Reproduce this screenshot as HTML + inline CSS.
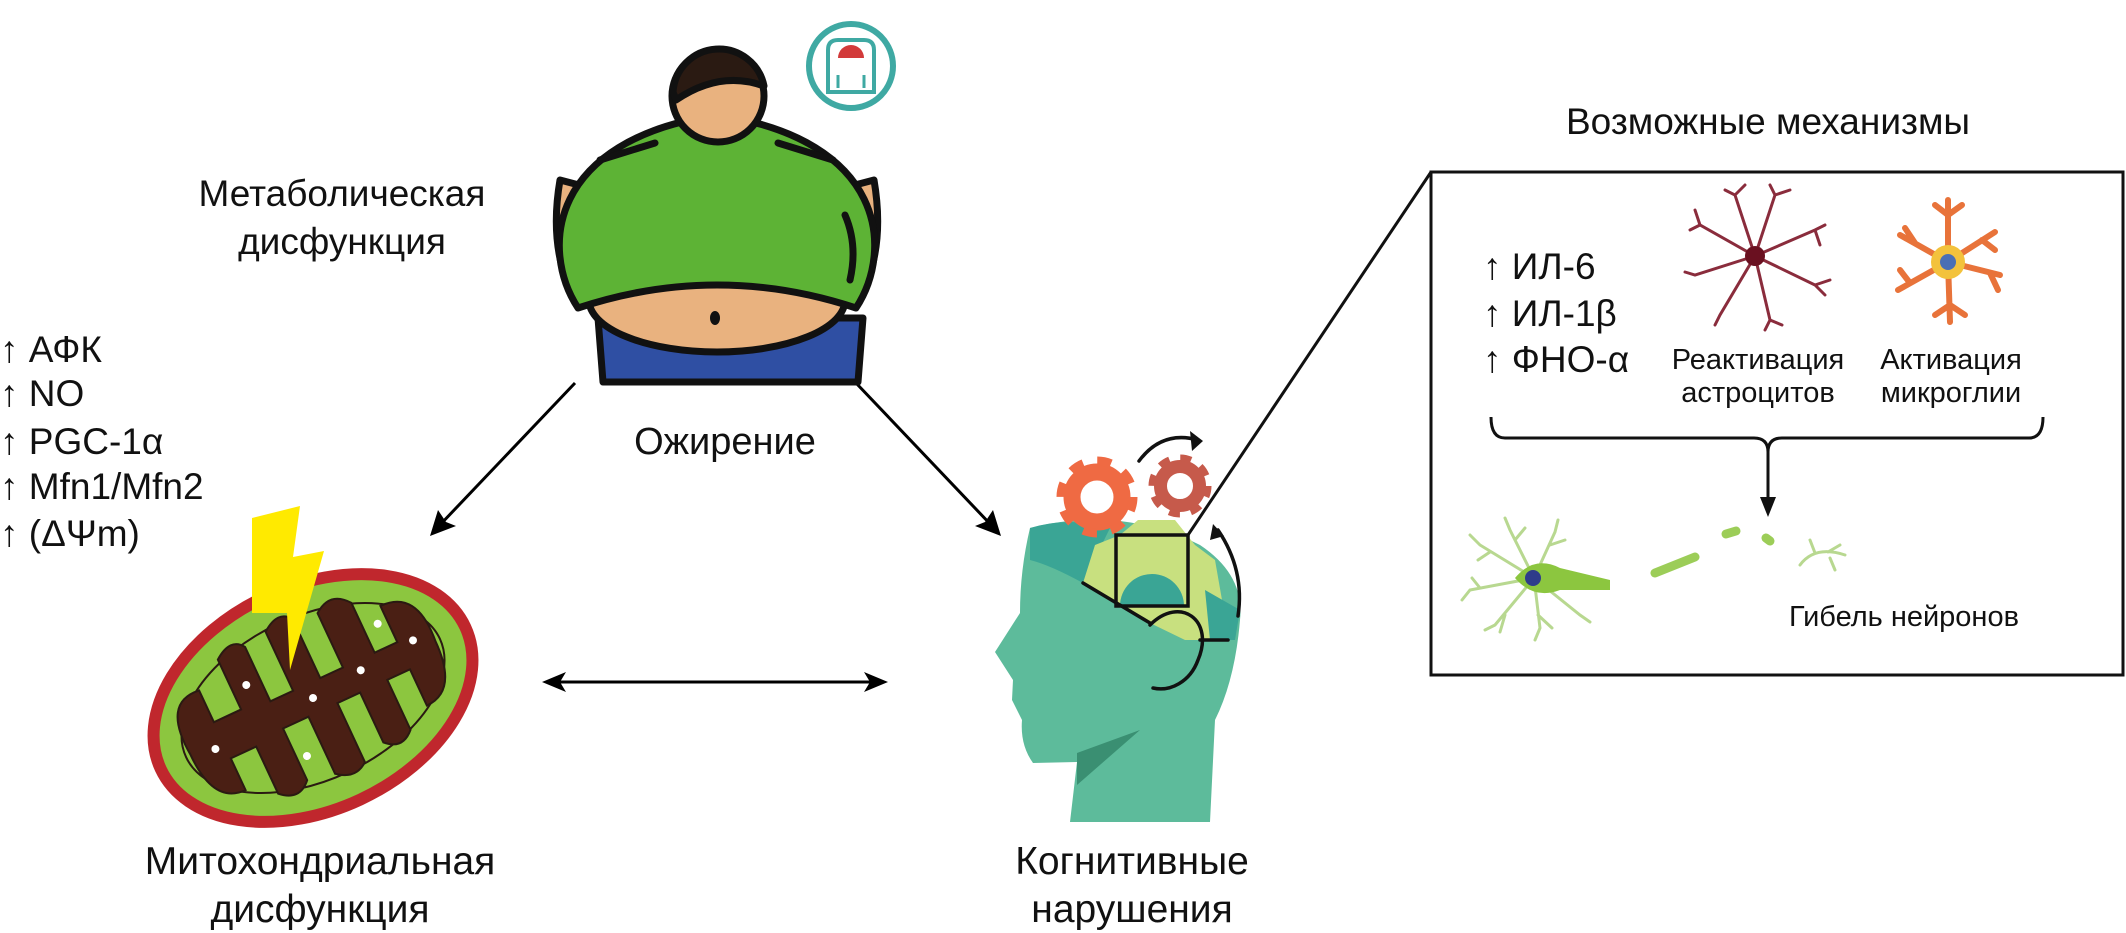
<!DOCTYPE html>
<html><head><meta charset="utf-8"><style>
html,body{margin:0;padding:0;background:#fff;}
svg{display:block;}
text{font-family:"Liberation Sans",sans-serif;fill:#111;}
</style></head><body>
<svg width="2126" height="933" viewBox="0 0 2126 933" xmlns="http://www.w3.org/2000/svg">
<defs>
<marker id="ah" viewBox="0 0 20 20" refX="18" refY="10" markerWidth="9" markerHeight="9" markerUnits="userSpaceOnUse" orient="auto">
</marker>
</defs>

<!-- Texts -->
<text x="342" y="206" font-size="37" text-anchor="middle">Метаболическая</text>
<text x="342" y="254" font-size="37" text-anchor="middle">дисфункция</text>
<g font-size="37">
<text x="0" y="362">↑ АФК</text>
<text x="0" y="406">↑ NO</text>
<text x="0" y="454">↑ PGC-1α</text>
<text x="0" y="499">↑ Mfn1/Mfn2</text>
<text x="0" y="546">↑ (ΔΨm)</text>
</g>
<text x="725" y="454" font-size="38" text-anchor="middle">Ожирение</text>
<text x="320" y="874" font-size="39" text-anchor="middle">Митохондриальная</text>
<text x="320" y="922" font-size="39" text-anchor="middle">дисфункция</text>
<text x="1132" y="874" font-size="39" text-anchor="middle">Когнитивные</text>
<text x="1132" y="922" font-size="39" text-anchor="middle">нарушения</text>
<text x="1768" y="134" font-size="37" text-anchor="middle">Возможные механизмы</text>

<!-- arrows -->
<g stroke="#000" stroke-width="3" fill="none">
<line x1="575" y1="383" x2="438" y2="527"/>
<line x1="856" y1="383" x2="993" y2="527"/>
<line x1="552" y1="682" x2="878" y2="682"/>
</g>
<g fill="#000">
<polygon points="430,536 438,510 446,522 456,526"/>
<polygon points="1001,536 975,526 985,522 993,510"/>
<polygon points="542,682 566,672 560,682 566,692"/>
<polygon points="888,682 864,672 870,682 864,692"/>
</g>

<!-- Scale icon -->
<circle cx="851" cy="66" r="42" fill="#fff" stroke="#3fa9a3" stroke-width="6"/>
<path d="M828 50 Q828 40 838 40 L864 40 Q874 40 874 50 L874 92 L828 92 Z" fill="#fff" stroke="#3fa9a3" stroke-width="4"/>
<path d="M838 58 A13 13 0 0 1 864 58 Z" fill="#d23a3a"/>
<line x1="838" y1="75" x2="838" y2="88" stroke="#3fa9a3" stroke-width="3"/>
<line x1="864" y1="75" x2="864" y2="88" stroke="#3fa9a3" stroke-width="3"/>

<!-- Person -->
<g stroke="#111" stroke-width="7" stroke-linejoin="round">
<path d="M598 318 L863 318 L858 382 L603 382 Z" fill="#2f4fa3"/>
<path d="M560 180 Q548 250 575 300 L598 300 L598 190 Z" fill="#e9b27f"/>
<path d="M874 180 Q886 250 859 300 L836 300 L836 190 Z" fill="#e9b27f"/>
<ellipse cx="717" cy="300" rx="128" ry="52" fill="#e9b27f"/>
<path d="M578 308 C540 250 548 140 717 115 C886 140 894 250 856 308 Q717 262 578 308 Z" fill="#5db335"/>
<circle cx="718" cy="96" r="46" fill="#e9b27f"/>
<path d="M673 92 A46 46 0 0 1 764 86 Q720 70 676 100 Z" fill="#2a1a12"/>
</g>
<ellipse cx="715" cy="318" rx="5" ry="7" fill="#111"/>
<g stroke="#111" stroke-width="7" stroke-linecap="round" fill="none">
<line x1="600" y1="160" x2="655" y2="143"/>
<line x1="778" y1="143" x2="833" y2="160"/>
<path d="M845 215 Q858 245 850 280"/>
</g>

<!-- Mitochondrion -->
<g transform="translate(313,698) rotate(-25)">
<ellipse cx="0" cy="0" rx="168" ry="112" fill="#8cc63f" stroke="#c0272d" stroke-width="12"/>
<ellipse cx="0" cy="0" rx="140" ry="82" fill="none" stroke="#2a1a12" stroke-width="2"/>
<path d="M-135 0 Q-140 -60 -100 -55 L-100 -20 L-70 -20 L-70 -75 Q-50 -90 -40 -75 L-40 -15 L-15 -15 L-15 -80 Q5 -95 15 -80 L15 -15 L40 -15 L40 -75 Q60 -90 75 -70 L75 -15 L100 -15 L100 -55 Q140 -55 135 0 Q135 55 100 55 L100 15 L75 15 L75 70 Q60 85 45 70 L45 15 L20 15 L20 80 Q5 92 -12 78 L-12 15 L-40 15 L-40 72 Q-55 88 -72 72 L-72 20 L-100 20 L-100 55 Q-135 55 -135 0 Z" fill="#4a1f14" stroke="#2a1a12" stroke-width="2"/>
<g fill="#fff"><circle cx="-110" cy="5" r="4"/><circle cx="-55" cy="-40" r="4"/><circle cx="0" cy="0" r="4"/><circle cx="55" cy="-5" r="4"/><circle cx="115" cy="-10" r="4"/><circle cx="-30" cy="50" r="4"/><circle cx="90" cy="-40" r="4"/></g>
</g>
<polygon points="252,518 300,506 293,557 324,551 290,670 287,613 252,613" fill="#ffea00"/>

<!-- Head -->
<path d="M1030 528 Q1120 505 1200 545 Q1245 575 1240 620 Q1235 680 1215 720 L1210 822 L1070 822 L1077 762 L1033 763 Q1020 745 1022 720 L1012 700 L1013 680 L995 652 L1020 613 Q1020 570 1030 528 Z" fill="#5dbb9b"/>
<polygon points="1077,785 1140,730 1077,753" fill="#3a8f72"/>
<path d="M1030 528 Q1070 516 1110 528 L1083 583 Q1050 565 1030 560 Z" fill="#3aa595"/>
<path d="M1083 583 L1095 545 L1120 535 L1138 520 L1175 520 L1195 545 L1215 560 L1222 600 L1215 640 L1185 640 L1150 623 Z" fill="#c8e07f"/>
<path d="M1205 590 L1240 610 L1235 640 L1210 640 Z" fill="#3aa595"/>
<path d="M1120 606 A32 32 0 0 1 1184 606 Z" fill="#3aa595"/>
<g stroke="#111" stroke-width="3.5" fill="none" stroke-linecap="round">
<line x1="1083" y1="583" x2="1150" y2="623"/>
<path d="M1150 625 C1180 595 1215 620 1198 660 C1190 682 1170 692 1153 688"/>
<line x1="1200" y1="640" x2="1228" y2="640"/>
<path d="M1139 461 Q1162 430 1198 440"/>
<path d="M1218 530 Q1245 570 1238 616"/>
</g>
<polygon points="1203,441 1190,431 1192,451" fill="#111"/>
<polygon points="1213,524 1210,540 1224,536" fill="#111"/>
<!-- gears -->
<circle cx="1097" cy="497" r="25" fill="none" stroke="#ef6a43" stroke-width="17"/>
<circle cx="1097" cy="497" r="36" fill="none" stroke="#ef6a43" stroke-width="9" stroke-dasharray="14 14.27"/>
<circle cx="1180" cy="486" r="19.5" fill="none" stroke="#c65a4b" stroke-width="13"/>
<circle cx="1180" cy="486" r="28" fill="none" stroke="#c65a4b" stroke-width="7" stroke-dasharray="11 11"/>
<!-- zoom square -->
<rect x="1116" y="535" width="72" height="71" fill="none" stroke="#111" stroke-width="3.5"/>
<line x1="1188" y1="535" x2="1431" y2="172" stroke="#111" stroke-width="3"/>

<!-- Box -->
<rect x="1431" y="172" width="692" height="503" fill="none" stroke="#111" stroke-width="3"/>
<g font-size="37">
<text x="1483" y="279">↑ ИЛ-6</text>
<text x="1483" y="326">↑ ИЛ-1β</text>
<text x="1483" y="372">↑ ФНО-α</text>
</g>
<g font-size="29" text-anchor="middle">
<text x="1758" y="369">Реактивация</text>
<text x="1758" y="402">астроцитов</text>
<text x="1951" y="369">Активация</text>
<text x="1951" y="402">микроглии</text>
<text x="1904" y="626">Гибель нейронов</text>
</g>
<!-- astrocyte -->
<g stroke="#8a2c3c" stroke-width="3" fill="none" stroke-linecap="round">
<path d="M1755 256 L1700 225 L1690 230 M1700 225 L1695 210"/>
<path d="M1755 256 L1735 195 L1725 190 M1735 195 L1745 185"/>
<path d="M1755 256 L1775 195 L1770 185 M1775 195 L1790 190"/>
<path d="M1755 256 L1815 230 L1825 225 M1815 230 L1820 245"/>
<path d="M1755 256 L1815 285 L1825 295 M1815 285 L1830 280"/>
<path d="M1755 256 L1770 320 L1765 330 M1770 320 L1782 325"/>
<path d="M1755 256 L1720 315 L1715 325"/>
<path d="M1755 256 L1695 275 L1685 272"/>
</g>
<circle cx="1755" cy="256" r="10" fill="#6a1020"/>
<!-- microglia -->
<g stroke="#e8733a" stroke-width="6" fill="none" stroke-linecap="round">
<path d="M1948 262 L1948 200 M1948 215 L1935 205 M1948 215 L1962 205"/>
<path d="M1948 262 L1900 235 M1915 243 L1905 228"/>
<path d="M1948 262 L1995 232 M1982 240 L1995 250"/>
<path d="M1948 262 L2000 275 M1990 273 L1998 290"/>
<path d="M1948 262 L1950 322 M1950 305 L1935 315 M1950 305 L1965 315"/>
<path d="M1948 262 L1898 290 M1910 283 L1900 270"/>
</g>
<circle cx="1948" cy="262" r="17" fill="#f3c23c"/>
<circle cx="1948" cy="262" r="8" fill="#4a6fb5"/>
<!-- brace -->
<path d="M1491 417 Q1491 438 1505 438 L1754 438 Q1768 438 1768 452 Q1768 438 1782 438 L2029 438 Q2043 438 2043 417" fill="none" stroke="#111" stroke-width="3"/>
<line x1="1768" y1="450" x2="1768" y2="505" stroke="#111" stroke-width="3"/>
<polygon points="1768,517 1760,497 1776,497" fill="#111"/>
<!-- neuron -->
<g stroke="#b8d890" stroke-width="3" fill="none" stroke-linecap="round">
<path d="M1534 578 L1480 545 L1470 535 M1490 552 L1478 560"/>
<path d="M1534 578 L1510 530 L1505 518 M1515 540 L1525 528"/>
<path d="M1534 578 L1555 532 L1558 520 M1550 545 L1565 540"/>
<path d="M1534 578 L1470 590 L1462 600 M1480 588 L1472 578"/>
<path d="M1534 578 L1495 625 L1485 630 M1505 615 L1500 632"/>
<path d="M1534 578 L1540 628 L1535 640 M1538 615 L1552 628"/>
<path d="M1534 578 L1580 615 L1590 622"/>
</g>
<path d="M1515 578 Q1534 555 1560 568 L1610 580 L1610 590 L1560 590 Q1534 600 1515 578 Z" fill="#8cc63f"/>
<circle cx="1533" cy="578" r="8" fill="#2e3c8a"/>
<g stroke="#9ccd58" stroke-width="9" stroke-linecap="round">
<line x1="1655" y1="573" x2="1695" y2="557"/>
<line x1="1726" y1="534" x2="1736" y2="531"/>
<line x1="1766" y1="538" x2="1770" y2="541"/>
</g>
<g stroke="#b8d890" stroke-width="3" fill="none" stroke-linecap="round">
<path d="M1800 565 Q1815 545 1845 555 M1815 553 L1810 540 M1828 552 L1840 545 M1830 558 L1835 570"/>
</g>
</svg>
</body></html>
